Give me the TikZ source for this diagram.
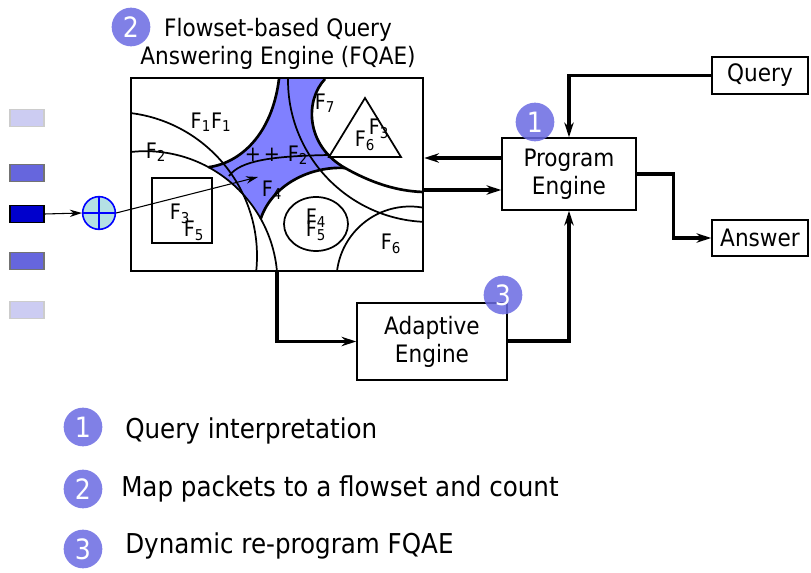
\documentclass[tikz,border=0pt]{standalone}
\usepackage{fontspec}
\setmainfont{DejaVu Sans Condensed}
\usetikzlibrary{arrows.meta,positioning}

\definecolor{flowblue}{RGB}{128,128,255}
\definecolor{stepblue}{RGB}{106,106,226}
\definecolor{celllight}{RGB}{204,204,242}
\definecolor{cellmid}{RGB}{102,102,221}
\definecolor{celldark}{RGB}{0,0,204}
\definecolor{addfill}{RGB}{180,224,228}

\begin{document}
\begin{tikzpicture}[x=0.75pt,y=-0.75pt,
	box/.style={ draw, line width=1.1pt, align=center, inner sep=0pt, font=\fontsize{18}{21}\selectfont },
	flow/.style={ line width=2.3pt, -{Stealth[length=11pt,width=7pt]} },
	stepnum/.style={ circle, fill=stepblue, fill opacity=0.85, text opacity=1, text=white, minimum size=29pt, inner sep=0pt, font=\fontsize{21}{21}\selectfont },
	flabel/.style={ inner sep=0pt, font=\fontsize{16}{16}\selectfont },
	region/.style={ line width=1.3pt },
	edge/.style={ line width=2pt },
	cell/.style={ minimum width=25.5pt, minimum height=12.75pt, inner sep=0pt, line width=1pt },
	legend/.style={ anchor=west, inner sep=0pt, font=\fontsize{20.5}{20.5}\selectfont }
]
\useasboundingbox (0,0) rectangle (811,573);

% flowset regions inside the FQAE box
\begin{scope}
\clip (131,78) rectangle (423,271);
\fill[flowblue] (208.5,167.2) .. controls (240,163) and (272,135) .. (279,79) -- (325,79)
	.. controls (305,100) and (305,145) .. (345,168)
	.. controls (310,166) and (272,185) .. (260.7,218.8)
	arc[start angle=-29.2, end angle=-61.5, radius=132] -- cycle;
\draw[region] (113,256) circle[radius=144];
\draw[region] (145.5,283.2) circle[radius=132];
\draw[region] (430,80) circle[radius=142];
\draw[region] (410,280) circle[radius=73.5];
\draw[edge] (208.5,167.2) .. controls (240,163) and (272,135) .. (279,79);
\draw[edge] (325,79) .. controls (305,100) and (305,145) .. (345,168) .. controls (370,182) and (395,191) .. (423,192);
\draw[edge] (345,168) .. controls (310,166) and (272,185) .. (260.7,218.8);
\draw[region] (229,176) .. controls (240,161) and (270,156) .. (330,155);
\draw[region] (365,98) -- (329,157) -- (401,157) -- cycle;
\draw[region] (152,178) rectangle (212,243);
\draw[region] (316,224) ellipse[x radius=32, y radius=27];
\end{scope}

\node[draw, line width=1.8pt, minimum width={292*0.75pt}, minimum height={193*0.75pt}] (fqae) at (277,174.5) {};

% labels of the flowsets
\node[flabel] (lf11) at (211,122) {F\textsubscript{1}F\textsubscript{1}};
\node[flabel] (lf2) at (156,152) {F\textsubscript{2}};
\node[flabel] (lf7) at (325,103) {F\textsubscript{7}};
\node[flabel] (lf3) at (379,129) {F\textsubscript{3}};
\node[flabel] (lf6a) at (365,141) {F\textsubscript{6}};
\node[flabel] (lplus1) at (253,155) {+};
\node[flabel] (lplus2) at (272,155) {+};
\node[flabel] (lf2b) at (298,155) {F\textsubscript{2}};
\node[flabel] (lf4) at (272,190) {F\textsubscript{4}};
\node[flabel] (lf3b) at (180,214) {F\textsubscript{3}};
\node[flabel] (lf5) at (194,231) {F\textsubscript{5}};
\node[flabel] (lf4b) at (316,218) {F\textsubscript{4}};
\node[flabel] (lf5b) at (316,231) {F\textsubscript{5}};
\node[flabel] (lf6) at (391,244) {F\textsubscript{6}};

% packet stream
\node[cell, fill=celllight, draw=black!20] (c1) at (27,118) {};
\node[cell, fill=cellmid, draw=black!55] (c2) at (27,173) {};
\node[cell, fill=celldark, draw=black] (c3) at (27,214) {};
\node[cell, fill=cellmid, draw=black!55] (c4) at (27,261) {};
\node[cell, fill=celllight, draw=black!20] (c5) at (27,310) {};
\node[circle, draw=blue, fill=addfill, line width=1.2pt, minimum size=24.5pt, inner sep=0pt] (adder) at (99,213) {};
\draw[blue, line width=1.2pt] (adder.north) -- (adder.south) (adder.west) -- (adder.east);
\draw[line width=0.8pt, -{Stealth[length=9pt,width=5.5pt]}] (c3.east) -- (adder.west);
\coordinate (hit) at (258,177);
\draw[line width=0.8pt, -{Stealth[length=9pt,width=5.5pt]}] (adder.east) -- (hit);

% engines
\node[box, minimum width={134*0.75pt}, minimum height={72*0.75pt}] (prog) at (569,174) {Program\\Engine};
\node[box, minimum width={96*0.75pt}, minimum height={37*0.75pt}] (query) at (760,75.5) {Query};
\node[box, minimum width={96*0.75pt}, minimum height={36*0.75pt}] (answer) at (760,238) {Answer};
\node[box, minimum width={150*0.75pt}, minimum height={77*0.75pt}] (adapt) at (432,341.5) {Adaptive\\Engine};
\node[align=center, inner sep=0pt, font=\fontsize{18}{21}\selectfont] (title) at (278,44) {Flowset-based Query\\Answering Engine (FQAE)};

\coordinate (pin) at ([yshift=12pt]prog.west);
\coordinate (pout) at ([yshift=-12pt]prog.west);
\draw[flow] (query.west) -| (prog.north);
\draw[flow] (pin) -- (pin -| fqae.east);
\draw[flow] (pout -| fqae.east) -- (pout);
\draw[flow] (prog.east) -- ++(37,0) |- (answer.west);
\draw[flow, line width=3pt] (adapt.east) -| (prog.south);
\draw[flow] (fqae.south) |- (adapt.west);

% step markers
\node[stepnum] (s1) at (535,122) {1};
\node[stepnum] (s2) at (131,27) {2};
\node[stepnum] (s3) at (503,295) {3};

% legend
\node[stepnum] (k1) at (83,427) {1};
\node[stepnum] (k2) at (83,489) {2};
\node[stepnum] (k3) at (83,549) {3};
\node[legend] (t1) at (125,431) {Query interpretation};
\node[legend] (t2) at (121,489) {Map packets to a flowset and count};
\node[legend] (t3) at (125,546) {Dynamic re-program FQAE};

\end{tikzpicture}
\end{document}
